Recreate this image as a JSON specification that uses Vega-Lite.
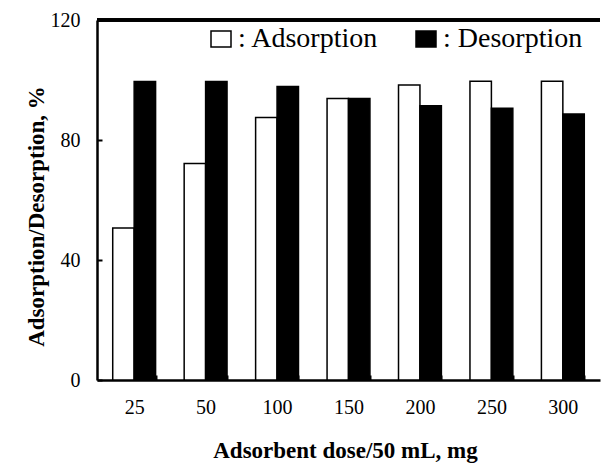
{
  "$schema": "https://vega.github.io/schema/vega-lite/v6.json",
  "autosize": "none",
  "width": 503,
  "height": 360,
  "padding": {"left": 97, "top": 20, "right": 1, "bottom": 83},
  "background": "white",
  "config": {
    "view": {"stroke": null},
    "font": "Liberation Serif"
  },
  "data": {
    "values": [
      {"dose": "25", "type": "Adsorption", "value": 50.7},
      {"dose": "25", "type": "Desorption", "value": 99.5},
      {"dose": "50", "type": "Adsorption", "value": 72.2},
      {"dose": "50", "type": "Desorption", "value": 99.5},
      {"dose": "100", "type": "Adsorption", "value": 87.5},
      {"dose": "100", "type": "Desorption", "value": 97.8},
      {"dose": "150", "type": "Adsorption", "value": 93.8},
      {"dose": "150", "type": "Desorption", "value": 93.8},
      {"dose": "200", "type": "Adsorption", "value": 98.3},
      {"dose": "200", "type": "Desorption", "value": 91.4},
      {"dose": "250", "type": "Adsorption", "value": 99.6},
      {"dose": "250", "type": "Desorption", "value": 90.6},
      {"dose": "300", "type": "Adsorption", "value": 99.6},
      {"dose": "300", "type": "Desorption", "value": 88.7}
    ]
  },
  "layer": [
    {
      "mark": {"type": "bar", "stroke": "black", "strokeWidth": 1.5},
      "encoding": {
        "x": {
          "field": "dose",
          "type": "ordinal",
          "sort": ["25", "50", "100", "150", "200", "250", "300"],
          "scale": {"paddingInner": 0.4, "paddingOuter": 0.22},
          "axis": {
            "title": "Adsorbent dose/50 mL, mg",
            "titleFont": "Liberation Serif",
            "titleFontSize": 23,
            "titleFontWeight": "bold",
            "titleColor": "black",
            "titleX": 248,
            "titleY": 77,
            "titleBaseline": "alphabetic",
            "titleAnchor": null,
            "labelAngle": 0,
            "labelFont": "Liberation Serif",
            "labelFontSize": 20,
            "labelColor": "black",
            "labelPadding": 22,
            "domainColor": "black",
            "domainWidth": 2.5,
            "tickBand": "extent",
            "tickColor": "black",
            "tickWidth": 2,
            "tickSize": -5
          }
        },
        "xOffset": {"field": "type", "type": "nominal", "sort": ["Adsorption", "Desorption"]},
        "y": {
          "field": "value",
          "type": "quantitative",
          "scale": {"domain": [0, 120], "nice": false},
          "axis": {
            "title": "Adsorption/Desorption, %",
            "titleFont": "Liberation Serif",
            "titleFontSize": 23,
            "titleFontWeight": "bold",
            "titleColor": "black",
            "titleX": -54,
            "titleY": 196,
            "titleAngle": 270,
            "titleBaseline": "alphabetic",
            "titleAnchor": null,
            "values": [0, 40, 80, 120],
            "grid": false,
            "labelFont": "Liberation Serif",
            "labelFontSize": 20,
            "labelColor": "black",
            "labelPadding": 22,
            "domainColor": "black",
            "domainWidth": 2.5,
            "tickColor": "black",
            "tickWidth": 2,
            "tickSize": -5
          }
        },
        "color": {
          "field": "type",
          "type": "nominal",
          "sort": ["Adsorption", "Desorption"],
          "scale": {"domain": ["Adsorption", "Desorption"], "range": ["white", "black"]},
          "legend": {
            "title": null,
            "orient": "none",
            "legendX": 110,
            "legendY": 5,
            "direction": "horizontal",
            "columnPadding": 33,
            "symbolType": "M-1,-0.8H1V0.8H-1Z",
            "symbolSize": 400,
            "symbolStrokeColor": "black",
            "symbolStrokeWidth": 1.5,
            "labelExpr": "': ' + datum.label",
            "labelFont": "Liberation Serif",
            "labelFontSize": 28,
            "labelColor": "black",
            "labelOffset": 3,
            "labelLimit": 300
          }
        }
      }
    },
    {
      "mark": {"type": "rule", "color": "black", "strokeWidth": 2.5},
      "encoding": {"y": {"datum": 120}}
    }
  ]
}
